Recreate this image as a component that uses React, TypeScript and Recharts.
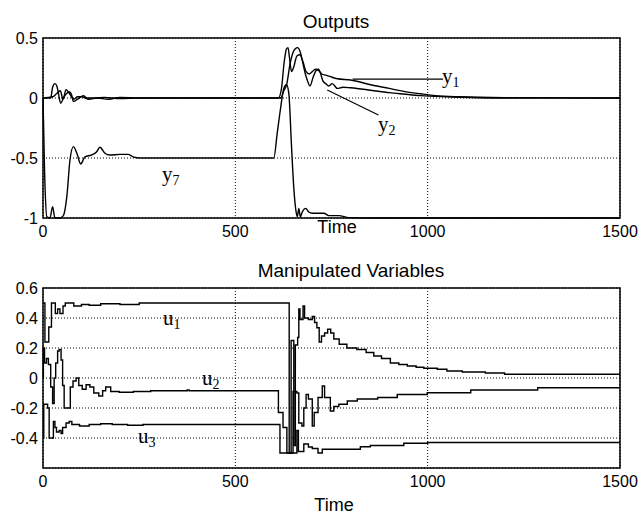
import React from "react";
import {
  LineChart,
  Line,
  XAxis,
  YAxis,
  CartesianGrid,
  ReferenceArea,
  ReferenceLine,
} from "recharts";

// axis ticks
const timeTicks = [0, 500, 1000, 1500];
const outputTicks = [-1, -0.5, 0, 0.5];
const mvTicks = [-0.4, -0.2, 0, 0.2, 0.4, 0.6];

// Outputs
const y1Time = [0, 20, 25, 31, 36, 40, 46, 53, 62, 69, 75, 79, 92, 105, 114, 131, 160, 200, 250, 600, 612, 620, 627, 633, 637, 641, 646, 652, 660, 668, 676, 684, 692, 700, 708, 716, 725, 735, 745, 765, 800, 852, 900, 938, 982, 1020, 1080, 1200, 1500];
const y1Vals = [0, 0, 0.09, 0.12, 0.1, 0.04, -0.045, 0, 0.04, 0.05, 0.02, -0.03, -0.005, 0.02, 0, 0, 0.005, -0.005, 0, 0, 0, 0.08, 0.3, 0.41, 0.42, 0.33, 0.22, 0.26, 0.35, 0.36, 0.3, 0.22, 0.2, 0.22, 0.24, 0.23, 0.2, 0.19, 0.18, 0.16, 0.15, 0.11, 0.08, 0.055, 0.035, 0.02, 0.01, 0.003, 0];

const y2Time = [0, 25, 35, 45, 52, 60, 70, 80, 90, 100, 120, 140, 170, 200, 250, 600, 618, 626, 634, 642, 650, 656, 662, 668, 675, 682, 688, 694, 702, 710, 716, 722, 728, 735, 743, 752, 765, 780, 800, 852, 900, 938, 982, 1050, 1200, 1500];
const y2Vals = [0, 0.01, 0.035, 0.06, -0.01, 0.07, 0.03, -0.01, 0.01, 0.01, -0.01, 0, -0.01, 0.005, 0, 0, 0, 0.06, 0.12, 0.28, 0.38, 0.41, 0.42, 0.39, 0.3, 0.2, 0.14, 0.1, 0.17, 0.23, 0.24, 0.2, 0.14, 0.12, 0.1, 0.12, 0.08, 0.09, 0.085, 0.065, 0.045, 0.033, 0.02, 0.01, 0, 0];

const y7Time = [0, 4, 10, 18, 25, 31, 44, 53, 62, 70, 79, 88, 98, 109, 126, 139, 148, 161, 174, 200, 221, 234, 252, 600, 609, 617, 626, 633, 639, 646, 652, 658, 661, 665, 669, 674, 683, 691, 700, 713, 730, 743, 769, 795, 850, 1500];
const y7Vals = [0, -0.6, -0.99, -1, -0.905, -1, -1, -0.98, -0.82, -0.52, -0.405, -0.46, -0.55, -0.49, -0.475, -0.45, -0.41, -0.46, -0.475, -0.47, -0.47, -0.49, -0.5, -0.5, -0.29, -0.1, 0.08, 0.11, 0.04, -0.4, -0.75, -0.95, -0.99, -0.92, -0.99, -0.95, -0.92, -0.95, -0.96, -0.96, -0.96, -0.98, -0.98, -0.997, -1, -1];

// Manipulated variables (stairs)
const u1Time = [0, 5, 15, 22, 32, 38, 44, 52, 58, 80, 100, 120, 150, 200, 250, 640, 645, 652, 656, 662, 665, 668, 676, 680, 690, 700, 706, 712, 718, 724, 732, 740, 748, 756, 770, 790, 816, 840, 860, 880, 903, 925, 947, 970, 990, 1025, 1050, 1090, 1150, 1200, 1500];
const u1Vals = [0.5, 0.24, 0.34, 0.5, 0.43, 0.46, 0.43, 0.48, 0.5, 0.48, 0.49, 0.485, 0.495, 0.49, 0.5, -0.5, 0.25, -0.45, 0.22, 0.27, 0.46, 0.39, 0.48, 0.4, 0.39, 0.41, 0.37, 0.335, 0.24, 0.28, 0.3, 0.325, 0.3, 0.26, 0.225, 0.2, 0.19, 0.17, 0.147, 0.13, 0.1, 0.09, 0.08, 0.072, 0.065, 0.058, 0.047, 0.04, 0.033, 0.025, 0.025];

const u2Time = [0, 1, 4, 9, 14, 20, 25, 29, 33, 38, 42, 47, 51, 55, 71, 78, 86, 93, 102, 112, 122, 132, 145, 155, 163, 176, 198, 235, 280, 370, 375, 380, 612, 624, 634, 650, 660, 665, 673, 678, 684, 690, 700, 705, 715, 726, 732, 747, 756, 769, 791, 817, 870, 921, 999, 1112, 1286, 1500];
const u2Vals = [0, 0.2, 0.1, 0.13, 0.09, -0.06, -0.17, 0, 0.1, 0.18, 0.19, 0.12, -0.05, -0.2, -0.06, -0.02, 0, -0.05, -0.075, -0.045, -0.06, -0.1, -0.12, -0.085, -0.06, -0.09, -0.095, -0.09, -0.085, -0.085, -0.08, -0.085, -0.23, -0.33, -0.5, -0.09, -0.1, -0.3, -0.32, -0.2, -0.11, -0.14, -0.32, -0.23, -0.13, -0.053, -0.13, -0.22, -0.19, -0.175, -0.153, -0.14, -0.13, -0.11, -0.098, -0.08, -0.065, -0.065];

const u3Time = [0, 2, 12, 16, 27, 31, 35, 42, 47, 51, 60, 68, 75, 95, 120, 150, 180, 220, 260, 616, 660, 664, 678, 690, 700, 715, 726, 800, 825, 851, 938, 1000, 1500];
const u3Vals = [-0.4, -0.175, -0.2, -0.4, -0.29, -0.33, -0.36, -0.35, -0.37, -0.33, -0.3, -0.29, -0.31, -0.32, -0.31, -0.305, -0.31, -0.315, -0.31, -0.5, -0.35, -0.49, -0.44, -0.46, -0.47, -0.5, -0.475, -0.475, -0.458, -0.45, -0.435, -0.43, -0.43];

const zip = (ts: number[], vs: number[]) => ts.map((t, i) => ({ t, v: vs[i] }));

const sans = "'Liberation Sans', Arial, Helvetica, sans-serif";
const serif = "'Liberation Serif', 'Times New Roman', serif";
const tickStyle = { fill: "#000", fontSize: 16, fontFamily: sans };

function Sub({ x, y, main, sub }: { x: number; y: number; main: string; sub: string }) {
  return (
    <text x={x} y={y} fontFamily={serif} fontSize={21} fill="#000">
      {main}
      <tspan fontSize={14} dy={4}>{sub}</tspan>
    </text>
  );
}

export default function App() {
  return (
    <div style={{ position: "absolute", left: 0, top: 0, width: 643, height: 515, background: "#fff" }}>
      <div style={{ position: "absolute", left: 0, top: 0 }}>
        <LineChart width={643} height={250} margin={{ top: 38, right: 23, bottom: 0, left: 0 }}>
          <CartesianGrid stroke="#000" strokeDasharray="1 2" strokeWidth={1} />
          <XAxis
            dataKey="t"
            type="number"
            domain={[0, 1500]}
            ticks={timeTicks}
            interval={0}
            axisLine={false}
            tickLine={false}
            height={32}
            tickSize={3}
            tickMargin={5}
            tick={tickStyle}
          />
          <YAxis
            type="number"
            domain={[-1, 0.5]}
            ticks={outputTicks}
            interval={0}
            axisLine={false}
            tickLine={false}
            width={43}
            tickSize={3}
            tickMargin={2}
            tick={tickStyle}
            tickFormatter={(v: number) => String(v)}
          />
          <ReferenceArea x1={0} x2={1500} y1={-1} y2={0.5} fill="none" fillOpacity={0} stroke="#000" strokeWidth={1.5} />
          <ReferenceLine segment={[{ x: 805, y: 0.158 }, { x: 1040, y: 0.158 }]} stroke="#000" strokeWidth={1.2} />
          <ReferenceLine segment={[{ x: 739, y: 0.067 }, { x: 872, y: -0.142 }]} stroke="#000" strokeWidth={1.2} />
          <Line data={zip(y7Time, y7Vals)} dataKey="v" type="monotone" stroke="#000" strokeWidth={1.4} dot={false} isAnimationActive={false} />
          <Line data={zip(y2Time, y2Vals)} dataKey="v" type="monotone" stroke="#000" strokeWidth={1.4} dot={false} isAnimationActive={false} />
          <Line data={zip(y1Time, y1Vals)} dataKey="v" type="monotone" stroke="#000" strokeWidth={1.4} dot={false} isAnimationActive={false} />
        </LineChart>
      </div>

      <div style={{ position: "absolute", left: 0, top: 250 }}>
        <LineChart width={643} height={265} margin={{ top: 38, right: 23, bottom: 0, left: 0 }}>
          <CartesianGrid stroke="#000" strokeDasharray="1 2" strokeWidth={1} />
          <XAxis
            dataKey="t"
            type="number"
            domain={[0, 1500]}
            ticks={timeTicks}
            interval={0}
            axisLine={false}
            tickLine={false}
            height={47}
            tickSize={3}
            tickMargin={5}
            tick={tickStyle}
          />
          <YAxis
            type="number"
            domain={[-0.6, 0.6]}
            ticks={mvTicks}
            interval={0}
            axisLine={false}
            tickLine={false}
            width={43}
            tickSize={3}
            tickMargin={2}
            tick={tickStyle}
            tickFormatter={(v: number) => String(v)}
          />
          <ReferenceArea x1={0} x2={1500} y1={-0.6} y2={0.6} fill="none" fillOpacity={0} stroke="#000" strokeWidth={1.5} />
          <Line data={zip(u1Time, u1Vals)} dataKey="v" type="stepAfter" stroke="#000" strokeWidth={1.4} dot={false} isAnimationActive={false} />
          <Line data={zip(u2Time, u2Vals)} dataKey="v" type="stepAfter" stroke="#000" strokeWidth={1.4} dot={false} isAnimationActive={false} />
          <Line data={zip(u3Time, u3Vals)} dataKey="v" type="stepAfter" stroke="#000" strokeWidth={1.4} dot={false} isAnimationActive={false} />
        </LineChart>
      </div>

      <svg width={643} height={515} style={{ position: "absolute", left: 0, top: 0, pointerEvents: "none" }}>
        <text x={336} y={28} textAnchor="middle" fontFamily={sans} fontSize={19} fill="#000">Outputs</text>
        <text x={351} y={277} textAnchor="middle" fontFamily={sans} fontSize={19} fill="#000">Manipulated Variables</text>
        <text x={337} y={233} textAnchor="middle" fontFamily={sans} fontSize={18} fill="#000">Time</text>
        <text x={334} y={511} textAnchor="middle" fontFamily={sans} fontSize={18} fill="#000">Time</text>
        <Sub x={442} y={83} main="y" sub="1" />
        <Sub x={378} y={131} main="y" sub="2" />
        <Sub x={162} y={181} main="y" sub="7" />
        <Sub x={163} y={325} main="u" sub="1" />
        <Sub x={202} y={385} main="u" sub="2" />
        <Sub x={138} y={443} main="u" sub="3" />
      </svg>
    </div>
  );
}
